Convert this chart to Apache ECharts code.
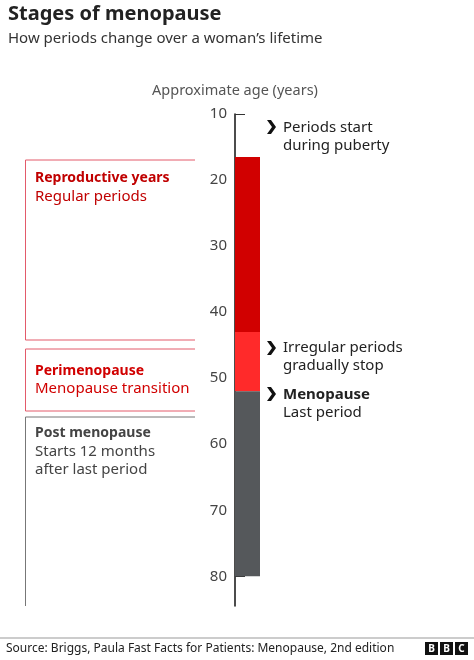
<!DOCTYPE html><html><head><meta charset="utf-8"><script src="https://cdn.jsdelivr.net/npm/echarts@6/dist/echarts.min.js"></script>
<style>body{margin:0}#c{width:474px;height:660px}</style></head><body><div id="c"></div><script>
const stages=['Before puberty','Reproductive years','Perimenopause','Post menopause'];
const spans=[16.5,26.5,9,28];
const colors=['transparent','#d10000','#ff2a2a','#55585b'];
const F='"Noto Sans", sans-serif';
const chart=echarts.init(document.getElementById('c'));
function chev(x,y){return {type:'polygon',shape:{points:[[x,y-7],[x+4,y-7],[x+9,y],[x+4,y+7],[x,y+7],[x+5,y]]},style:{fill:'#111'}};}
function txt(x,y,t,o){return Object.assign({type:'text',x:x,y:y,style:Object.assign({text:t,font:'15px '+F,fill:'#222',textVerticalAlign:'middle'},o||{})});}
chart.setOption({
animation:false,
grid:{left:235,top:114,height:492,width:25},
xAxis:{type:'category',data:['age'],show:false},
yAxis:{type:'value',inverse:true,min:10,max:84.5,interval:10,
 name:'Approximate age (years)',nameLocation:'start',nameGap:16,
 nameTextStyle:{fontFamily:F,fontSize:14.5,color:'#555',align:'center'},
 axisLine:{show:true,lineStyle:{color:'#111',width:1.5}},
 axisTick:{show:true,inside:true,length:10,lineStyle:{color:'#333'}},
 axisLabel:{fontFamily:F,fontSize:15,color:'#444',margin:8,showMaxLabel:false},
 splitLine:{show:false}},
series:stages.map((s,i)=>({type:'bar',name:s,stack:'a',data:[spans[i]],barWidth:'100%',itemStyle:{color:colors[i]},z:i?3:1})),
graphic:[
 {type:'text',left:8,top:4,style:{text:'Stages of menopause',font:'bold 20px '+F,fill:'#222'}},
 {type:'text',left:8,top:31,style:{text:'How periods change over a woman\u2019s lifetime',font:'15px '+F,fill:'#333'}},
 {type:'polyline',shape:{points:[[195,160],[25.5,160],[25.5,340],[195,340]]},style:{stroke:'#e35a6a',fill:null,lineWidth:1}},
 {type:'polyline',shape:{points:[[195,349],[25.5,349],[25.5,411],[195,411]]},style:{stroke:'#e35a6a',fill:null,lineWidth:1}},
 {type:'polyline',shape:{points:[[195,417],[25.5,417],[25.5,606]]},style:{stroke:'#777',fill:null,lineWidth:1}},
 txt(35,178,'Reproductive years',{font:'bold 14px '+F,fill:'#c00000'}),
 txt(35,197,'Regular periods',{fill:'#c00000'}),
 txt(35,371,'Perimenopause',{font:'bold 14px '+F,fill:'#d10000'}),
 txt(35,389,'Menopause transition',{fill:'#d10000'}),
 txt(35,433,'Post menopause',{font:'bold 14px '+F,fill:'#444'}),
 txt(35,452,'Starts 12 months',{fill:'#444'}),
 txt(35,470,'after last period',{fill:'#444'}),
 chev(267,127),txt(283,128,'Periods start'),txt(283,146,'during puberty'),
 chev(267,348),txt(283,348,'Irregular periods'),txt(283,366,'gradually stop'),
 chev(267,394),txt(283,395,'Menopause',{font:'bold 15px '+F}),txt(283,413,'Last period'),
 {type:'line',shape:{x1:0,y1:638,x2:474,y2:638},style:{stroke:'#999',lineWidth:1}},
 txt(6,649,'Source: Briggs, Paula Fast Facts for Patients: Menopause, 2nd edition',{font:'12px '+F,fill:'#222'}),
 ...[0,1,2].map(i=>({type:'group',x:425+i*15,y:642,children:[{type:'rect',shape:{x:0,y:0,width:13,height:13},style:{fill:'#111'}},{type:'text',x:6.5,y:7,style:{text:'BBC'[i],font:'bold 10px '+F,fill:'#fff',textAlign:'center',textVerticalAlign:'middle'}}]}))
]});
</script></body></html>
